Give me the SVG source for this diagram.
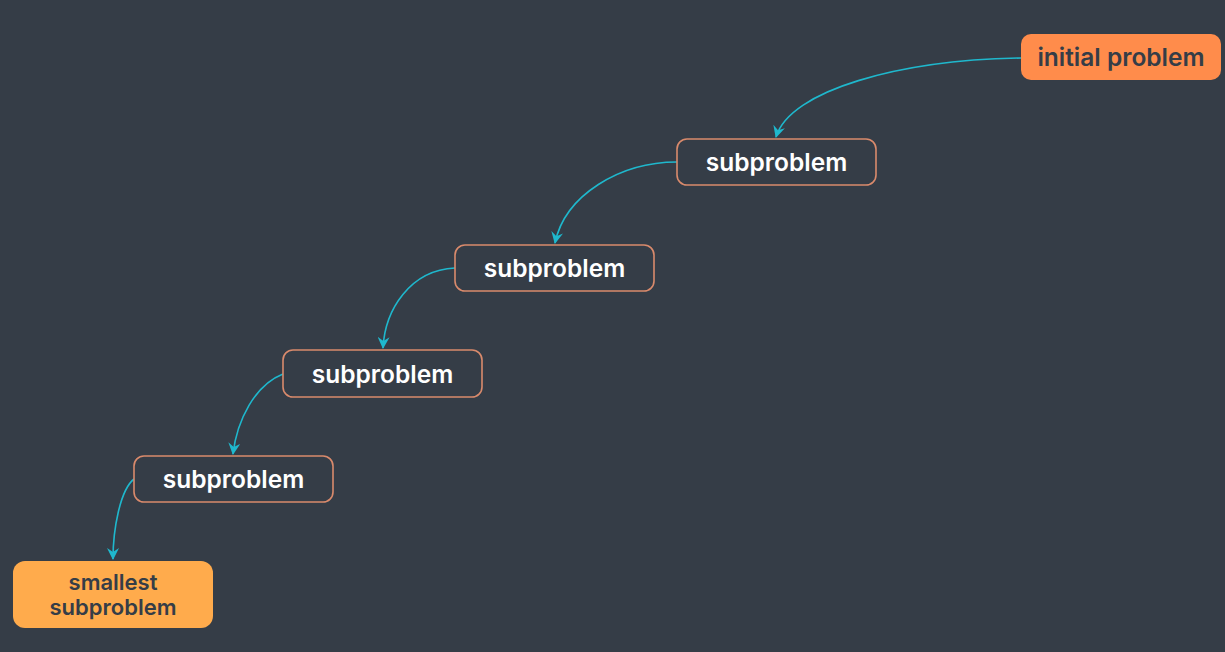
<svg xmlns="http://www.w3.org/2000/svg" width="1225" height="652" viewBox="0 0 1225 652">
<style>
.bg{fill:#353d47}
.sub rect{fill:#353d47;stroke:#d98a6c;stroke-width:1.6}
.lbl{font-family:Inter,"Noto Sans",sans-serif;font-weight:600;font-size:24.5px;text-anchor:middle;dominant-baseline:central}
.sub text{fill:#ffffff}
.dark{fill:#353d47}
.small{font-size:22px}
.edge{fill:none;stroke:#1fb8cd;stroke-width:1.6;marker-end:url(#ah)}
</style>
<defs>
<marker id="ah" viewBox="0 0 12 12" refX="11" refY="6" markerWidth="12" markerHeight="12" markerUnits="userSpaceOnUse" orient="auto">
<path d="M0,0 L12,6 L0,12 L4,6 Z" fill="#1fb8cd"/>
</marker>
</defs>
<rect class="bg" x="0" y="0" width="1225" height="652"/>
<g id="connectors">
<path class="edge" d="M1021,58 C900,60 790,90 776,137"/>
<path class="edge" d="M677,162 C620,162 565,195 555,243"/>
<path class="edge" d="M455,268 C410,270 385,310 383,348"/>
<path class="edge" d="M283,374 C255,385 237,420 233,454"/>
<path class="edge" d="M134,479 C120,490 113,530 113,559"/>
</g>
<g id="initial">
<rect x="1021" y="34" width="200" height="46" rx="10" fill="#ff8c4b"/>
<text class="lbl dark" x="1121" y="57">initial problem</text>
</g>
<g id="sub1" class="sub">
<rect x="677" y="139" width="199" height="46" rx="10"/>
<text class="lbl" x="776.5" y="162">subproblem</text>
</g>
<g id="sub2" class="sub">
<rect x="455" y="245" width="199" height="46" rx="10"/>
<text class="lbl" x="554.5" y="268">subproblem</text>
</g>
<g id="sub3" class="sub">
<rect x="283" y="350" width="199" height="47" rx="10"/>
<text class="lbl" x="382.5" y="374">subproblem</text>
</g>
<g id="sub4" class="sub">
<rect x="134" y="456" width="199" height="46" rx="10"/>
<text class="lbl" x="233.5" y="479">subproblem</text>
</g>
<g id="smallest">
<rect x="13" y="561" width="200" height="67" rx="12" fill="#ffab4c"/>
<text class="lbl dark small" x="113" y="582">smallest</text>
<text class="lbl dark small" x="113" y="607">subproblem</text>
</g>
</svg>
